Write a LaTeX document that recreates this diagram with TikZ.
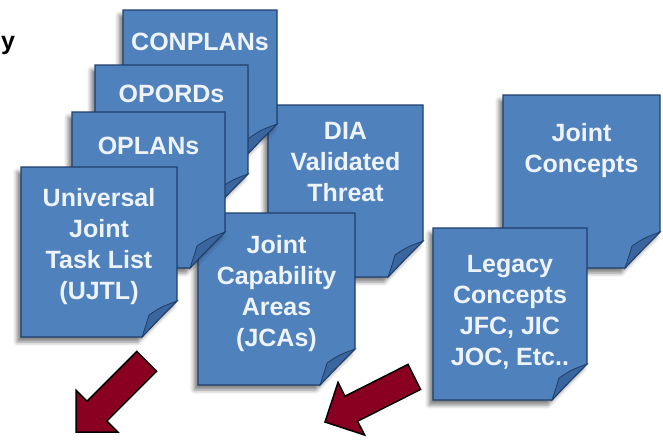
\documentclass[tikz,border=0pt]{standalone}
\usepackage{fontspec}
\setmainfont{Liberation Sans}
\usetikzlibrary{shadows.blur}

\definecolor{sheetblue}{HTML}{4F81BD}
\definecolor{sheetline}{HTML}{1F3F6A}
\definecolor{flapblue}{HTML}{3A659E}
\definecolor{arrowred}{HTML}{8A0020}
\definecolor{sheettextcol}{HTML}{EEF3FA}

\tikzset{
  sheetbody/.style={fill=sheetblue, draw=sheetline, line width=1.2pt,
    blur shadow={shadow xshift=-4pt, shadow yshift=-5pt,
      shadow blur radius=4pt, shadow opacity=50}},
  sheetflap/.style={fill=flapblue, draw=sheetline, line width=0.8pt},
  sheettext/.style={anchor=north, inner sep=0pt, align=center,
    text=sheettextcol, font=\fontsize{25}{31}\selectfont\bfseries},
  bigarrow/.style={draw=black, line width=1.5pt, fill=arrowred, line join=miter}
}

% #1 name, #2 left, #3 top, #4 right, #5 bottom, #6 text drop, #7 text
\newcommand\sheet[7]{%
  \path[sheetbody] (#2,#3) -- (#4,#3) -- (#4,#5-36)
    .. controls (#4-19,#5-17) .. (#4-35,#5) -- (#2,#5) -- cycle;
  \path[sheetflap] (#4,#5-36) .. controls (#4-16,#5-30) .. (#4-28,#5-22)
    .. controls (#4-31,#5-12) .. (#4-35,#5)
    .. controls (#4-19,#5-17) .. (#4,#5-36) -- cycle;
  \node[sheettext] (#1) at ({(#2+#4)/2},#3+#6) {#7};
}

\begin{document}
\begin{tikzpicture}[x=1pt,y=-1pt]
  \useasboundingbox (0,0) rectangle (663,440);

  % word end at the left edge
  \node[anchor=base west, inner sep=0pt, font=\fontsize{25}{30}\selectfont\bfseries]
    (cutword) at (1,49) {y};

  % middle group
  \sheet{dia}{268}{105}{423}{277}{17}{DIA\\Validated\\Threat}
  \sheet{jca}{198}{213}{355}{385}{22}{Joint\\Capability\\Areas\\(JCAs)}

  % left stack, back to front
  \sheet{conplans}{123}{10}{277}{160}{23}{CONPLANs}
  \sheet{opords}{95}{65}{248}{210}{20}{OPORDs}
  \sheet{oplans}{72}{112}{225}{268}{25}{OPLANs}
  \sheet{ujtl}{21}{167}{177}{337}{21}{Universal\\Joint\\Task List\\(UJTL)}

  % right group
  \sheet{jointcon}{503}{95}{660}{268}{28}{Joint\\Concepts}
  \sheet{legacy}{433}{228}{587}{400}{27}{Legacy\\Concepts\\JFC, JIC\\JOC, Etc..}

  % arrows
  \draw[bigarrow] (136.8,351.4) -- (87.0,401.2) -- (76.0,390.2) -- (76,432)
    -- (117.8,432.0) -- (106.8,421.0) -- (156.6,371.2) -- cycle;
  \draw[bigarrow] (408.0,364.4) -- (345.0,396.2) -- (338.0,382.4) -- (325,422)
    -- (364.6,435.0) -- (357.6,421.2) -- (420.6,389.4) -- cycle;
\end{tikzpicture}
\end{document}
